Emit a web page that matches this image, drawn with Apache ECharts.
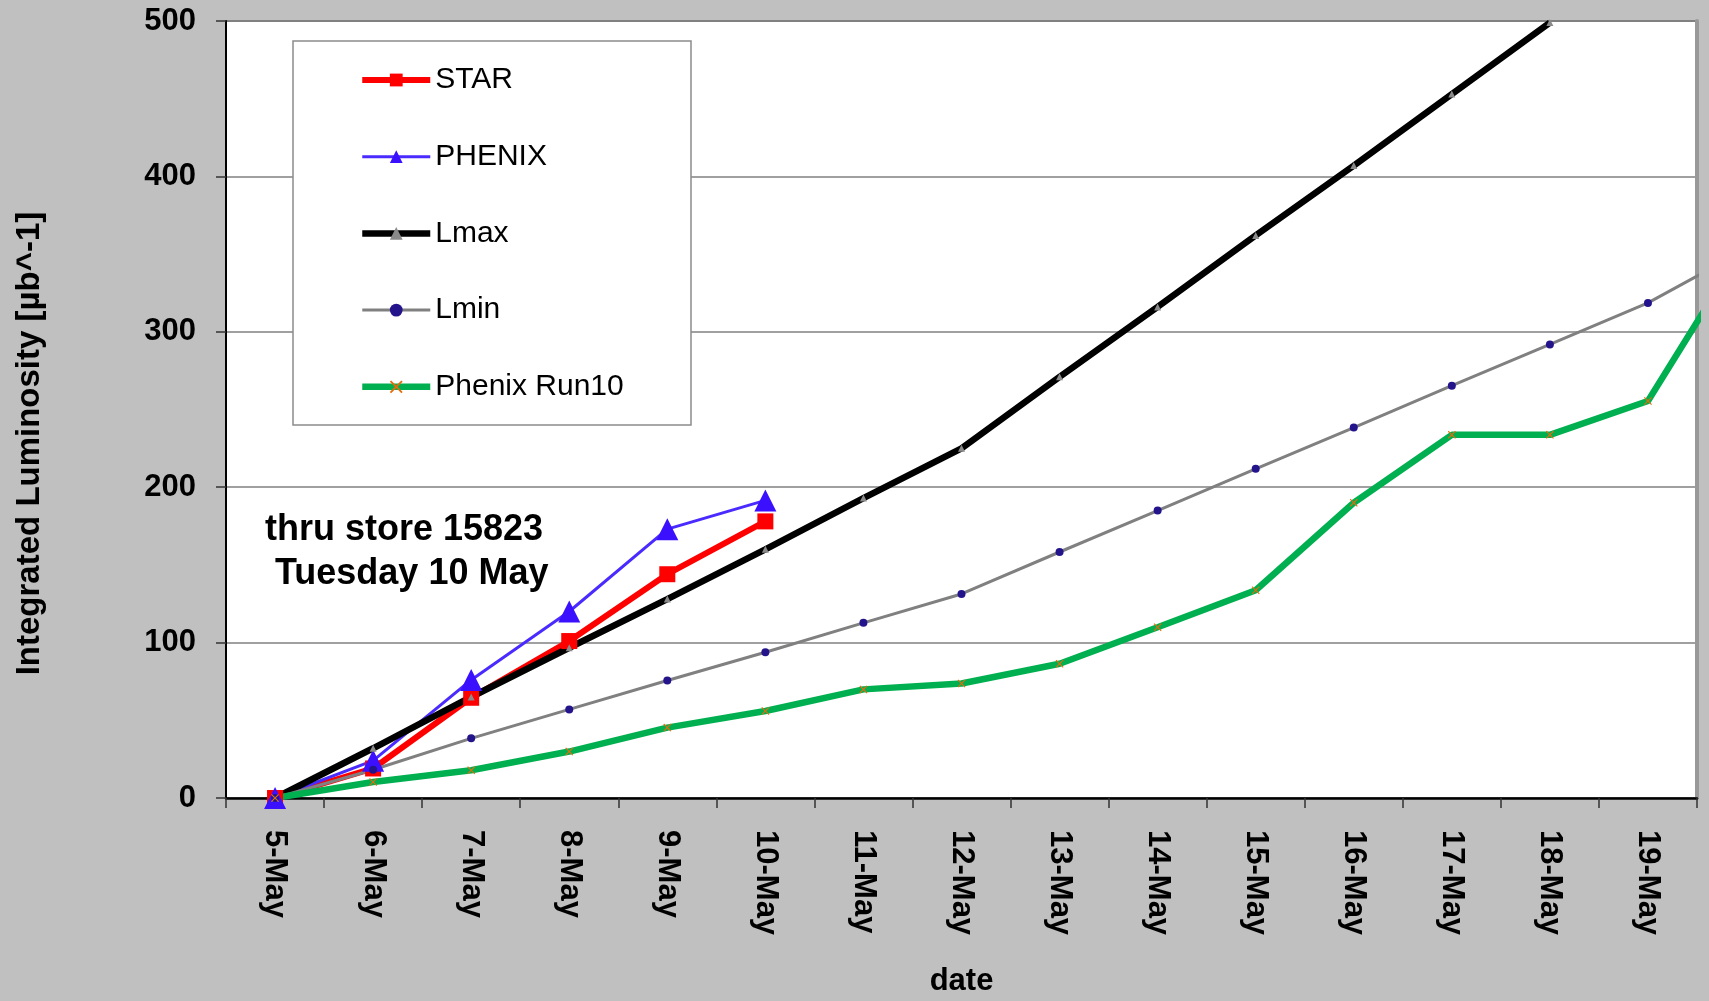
<!DOCTYPE html>
<html>
<head>
<meta charset="utf-8">
<script src="https://cdn.jsdelivr.net/npm/echarts@6/dist/echarts.min.js"></script>
<style>
  html, body { margin: 0; padding: 0; background: #c0c0c0; }
  #chart { width: 1709px; height: 1001px; }
</style>
</head>
<body>
<div id="chart"></div>
<script>
// dates; the last one only feeds the segment that runs off the right edge
const dates = ['5-May', '6-May', '7-May', '8-May', '9-May', '10-May', '11-May', '12-May',
  '13-May', '14-May', '15-May', '16-May', '17-May', '18-May', '19-May', '20-May'];
const shownDays = 15;

const star = [0, 19, 64.5, 101, 144, 178];
const phenix = [0, 24, 76, 120, 173, 191.5];
const lmax = [0, 32, 65, 96.7, 128, 160, 193, 225, 271, 316, 362, 407, 453, 499];
const lmin = [0, 18.2, 38.4, 57, 75.6, 93.8, 112.7, 131.3, 158.3, 185, 211.8, 238.4, 265.3, 291.9, 318.6, 353];
const run10 = [0, 10.3, 17.9, 29.9, 45.3, 56, 69.9, 73.7, 86.4, 109.9, 133.7, 190, 233.7, 233.7, 255.5, 357];

const yTicks = [0, 100, 200, 300, 400, 500];

const FONT = 'Liberation Sans, Arial, sans-serif';
const xMark = 'path://M0,1L1,0L5,4L9,0L10,1L6,5L10,9L9,10L5,6L1,10L0,9L4,5Z';

const toPoints = (vals) => vals.map((v, i) => [i, v]);

const myChart = echarts.init(document.getElementById('chart'));

const option = {
  animation: false,
  backgroundColor: '#c0c0c0',
  grid: {
    left: 226, right: 12, top: 21, bottom: 203,
    show: true,
    backgroundColor: '#ffffff',
    borderColor: '#808080',
    borderWidth: 2,
    outerBoundsMode: 'none',
  },
  legend: {
    orient: 'vertical',
    left: 359,
    top: 65,
    padding: 0,
    itemWidth: 68,
    itemHeight: 16,
    itemGap: 46.7,
    selectedMode: false,
    data: [
      { name: 'STAR', lineStyle: { width: 6 } },
      { name: 'PHENIX', lineStyle: { width: 3 } },
      { name: 'Lmax', lineStyle: { width: 6.5 } },
      { name: 'Lmin', lineStyle: { width: 3 } },
      { name: 'Phenix Run10', lineStyle: { width: 6.5 } },
    ],
    textStyle: { fontSize: 30, lineHeight: 30, color: '#000', fontFamily: FONT },
  },
  graphic: [
    {
      type: 'rect',
      z: 3,
      shape: { x: 293, y: 41, width: 398, height: 384 },
      style: { fill: '#ffffff', stroke: '#8c8c8c', lineWidth: 1.5 },
    },
    {
      type: 'text',
      z: 5,
      left: 265,
      top: 508,
      style: {
        text: 'thru store 15823\n Tuesday 10 May',
        font: 'bold 36px ' + FONT,
        fill: '#000',
        lineHeight: 44,
      },
    },
  ],
  xAxis: [
    {
      type: 'category',
      data: dates.slice(0, shownDays),
      boundaryGap: true,
      axisLine: { show: true, onZero: false, lineStyle: { color: '#000', width: 2.5 } },
      axisTick: { show: true, interval: 0, length: 10, lineStyle: { color: '#333', width: 1.5 } },
      axisLabel: {
        interval: 0, rotate: -90, margin: 32,
        fontSize: 31, fontWeight: 'bold', color: '#000', fontFamily: FONT,
      },
      splitLine: { show: false },
      name: 'date',
      nameLocation: 'middle',
      nameGap: 168,
      nameTextStyle: { fontSize: 31, fontWeight: 'bold', color: '#000', fontFamily: FONT },
    },
    {
      type: 'value',
      min: -0.5,
      max: shownDays - 0.5,
      show: false,
    },
  ],
  yAxis: [
    {
      type: 'value',
      min: yTicks[0],
      max: yTicks[yTicks.length - 1],
      interval: 100,
      axisLine: { show: true, onZero: false, lineStyle: { color: '#000', width: 2 } },
      axisTick: { show: true, length: 10, lineStyle: { color: '#333', width: 1.5 } },
      axisLabel: { margin: 30, fontSize: 31, fontWeight: 'bold', color: '#000', fontFamily: FONT },
      splitLine: { show: true, lineStyle: { color: '#808080', width: 1.5 } },
      name: 'Integrated Luminosity [µb^-1]',
      nameLocation: 'middle',
      nameGap: 180,
      nameTextStyle: {
        fontSize: 33, fontWeight: 'bold', color: '#000', fontFamily: FONT,
        padding: [0, 68, 0, 0],
      },
    },
    {
      type: 'value',
      position: 'right',
      min: yTicks[0],
      max: yTicks[yTicks.length - 1],
      interval: 100,
      axisLine: { show: true, onZero: false, lineStyle: { color: '#999', width: 4 } },
      axisTick: { show: false },
      axisLabel: { show: false },
      splitLine: { show: false },
    },
  ],
  series: [
    {
      name: 'STAR',
      type: 'line',
      xAxisIndex: 1,
      data: toPoints(star),
      symbol: 'rect',
      symbolSize: 16,
      lineStyle: { color: '#ff0000', width: 6 },
      itemStyle: { color: '#ff0000' },
    },
    {
      name: 'PHENIX',
      type: 'line',
      xAxisIndex: 1,
      data: toPoints(phenix),
      symbol: 'triangle',
      symbolSize: 22,
      lineStyle: { color: '#4a2bff', width: 3 },
      itemStyle: { color: '#3a10ff' },
    },
    {
      name: 'Lmax',
      type: 'line',
      xAxisIndex: 1,
      data: toPoints(lmax),
      symbol: 'triangle',
      symbolSize: 7,
      lineStyle: { color: '#000', width: 6.5 },
      itemStyle: { color: '#8a8a8a' },
    },
    {
      name: 'Lmin',
      type: 'line',
      xAxisIndex: 1,
      data: toPoints(lmin),
      symbol: 'circle',
      symbolSize: 8,
      lineStyle: { color: '#808080', width: 3 },
      itemStyle: { color: '#24148c' },
    },
    {
      name: 'Phenix Run10',
      type: 'line',
      xAxisIndex: 1,
      data: toPoints(run10),
      symbol: xMark,
      symbolSize: 8,
      lineStyle: { color: '#00b050', width: 6.5 },
      itemStyle: { color: '#e46c0a' },
    },
  ],
};

myChart.setOption(option);
window.addEventListener('resize', () => {
  myChart.resize();
});
</script>
</body>
</html>
